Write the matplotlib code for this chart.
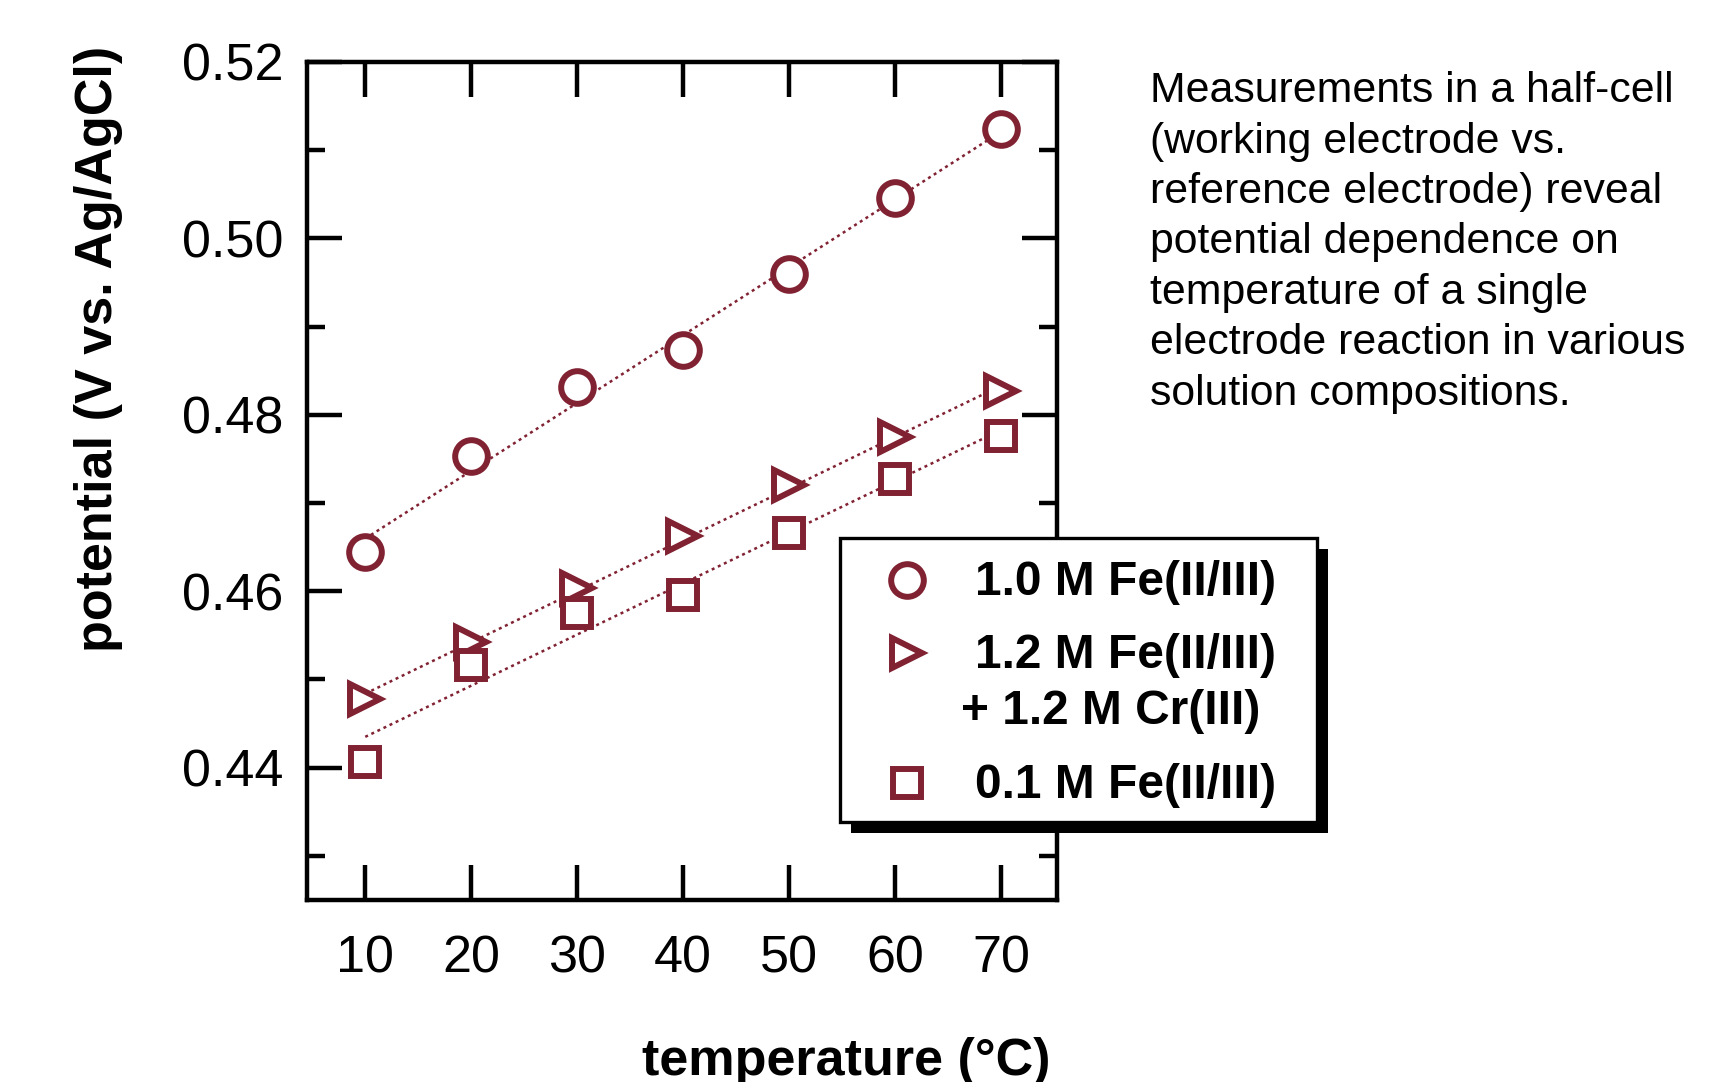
import numpy as np
import matplotlib
matplotlib.use('Agg')
import matplotlib.pyplot as plt
from matplotlib.lines import Line2D
from matplotlib.patches import Rectangle
from matplotlib.ticker import FormatStrFormatter

plt.rcParams['font.family'] = ['Liberation Sans', 'DejaVu Sans']

# half-cell potentials (V vs. Ag/AgCl) at each temperature (deg C)
temperature = [10, 20, 30, 40, 50, 60, 70]
fe_1_0 = [0.4645, 0.4753, 0.4831, 0.4873, 0.4960, 0.5046, 0.5124]
fe_1_2_cr = [0.4478, 0.4542, 0.4604, 0.4663, 0.4720, 0.4775, 0.4827]
fe_0_1 = [0.4406, 0.4516, 0.4575, 0.4596, 0.4666, 0.4727, 0.4776]

y_major = [0.44, 0.46, 0.48, 0.50, 0.52]
y_minor = [0.43, 0.45, 0.47, 0.49, 0.51]

labels = ['1.0 M Fe(II/III)', '1.2 M Fe(II/III)', '0.1 M Fe(II/III)']
label_extra = '+ 1.2 M Cr(III)'
notes = ['Measurements in a half-cell',
         '(working electrode vs.',
         'reference electrode) reveal',
         'potential dependence on',
         'temperature of a single',
         'electrode reaction in various',
         'solution compositions.']

W, H = 1718, 1082
fig = plt.figure(figsize=(W / 100, H / 100), dpi=100)

# pixel (from top-left) -> figure fraction
def fx(px):
    return px / W

def fy(py):
    return 1 - py / H

ax = fig.add_axes([fx(307), fy(900), fx(1057) - fx(307), fy(62) - fy(900)])

red = '#812233'
styles = [('o', 23.5), ('>', 22), ('s', 20.5)]
series = [fe_1_0, fe_1_2_cr, fe_0_1]

# dotted linear fits under the markers
for vals in series:
    fit = np.polyfit(temperature, vals, 1)
    ends = [temperature[0], temperature[-1]]
    ax.plot(ends, np.polyval(fit, ends), ls=(0, (1.2, 1.5)), lw=1.8,
            color=red, zorder=2)

for vals, (m, ms) in zip(series, styles):
    ax.plot(temperature, vals, ls='none', marker=m, ms=ms, mew=4.3,
            mec=red, mfc='white', zorder=3)

ax.set_xlim(4.5, 75.3)
ax.set_ylim(0.425, 0.52)
ax.set_xticks(temperature)
ax.set_yticks(y_major)
ax.set_yticks(y_minor, minor=True)
ax.yaxis.set_major_formatter(FormatStrFormatter('%.2f'))
ax.tick_params(which='both', direction='in', top=True, right=True, width=3.2)
ax.tick_params(which='major', length=25, labelsize=37.5)
ax.tick_params(axis='y', which='major', pad=17)
ax.tick_params(axis='x', which='major', pad=25)
ax.tick_params(which='minor', length=13)
for sp in ax.spines.values():
    sp.set_linewidth(3.2)

fig.text(fx(99), fy(349), 'potential (V vs. Ag/AgCl)', rotation=90,
         ha='center', va='center', fontsize=37.5, fontweight='bold')
fig.text(fx(846), fy(1075), 'temperature (°C)', ha='center', va='baseline',
         fontsize=37.5, fontweight='bold')

# legend box with a hard black shadow
fig.add_artist(Rectangle((fx(851), fy(833)), fx(1328) - fx(851), fy(549) - fy(833),
                         transform=fig.transFigure, facecolor='black', edgecolor='none'))
fig.add_artist(Rectangle((fx(840), fy(822)), fx(1317) - fx(840), fy(538) - fy(822),
                         transform=fig.transFigure, facecolor='white',
                         edgecolor='black', lw=2.4))
for (m, ms), yy in zip(styles, [580, 653, 783]):
    fig.add_artist(Line2D([fx(907)], [fy(yy)], ls='none', marker=m, ms=ms, mew=4.3,
                          mec=red, mfc='white', transform=fig.transFigure))
for lab, yy in zip(labels, [595, 668, 798]):
    fig.text(fx(975), fy(yy), lab, va='baseline', fontsize=34.5, fontweight='bold')
fig.text(fx(961), fy(724), label_extra, va='baseline', fontsize=34.5, fontweight='bold')

for i, line in enumerate(notes):
    fig.text(fx(1150), fy(102 + 50.5 * i), line, va='baseline', fontsize=30.8)

fig.savefig('out.png', dpi=100)
